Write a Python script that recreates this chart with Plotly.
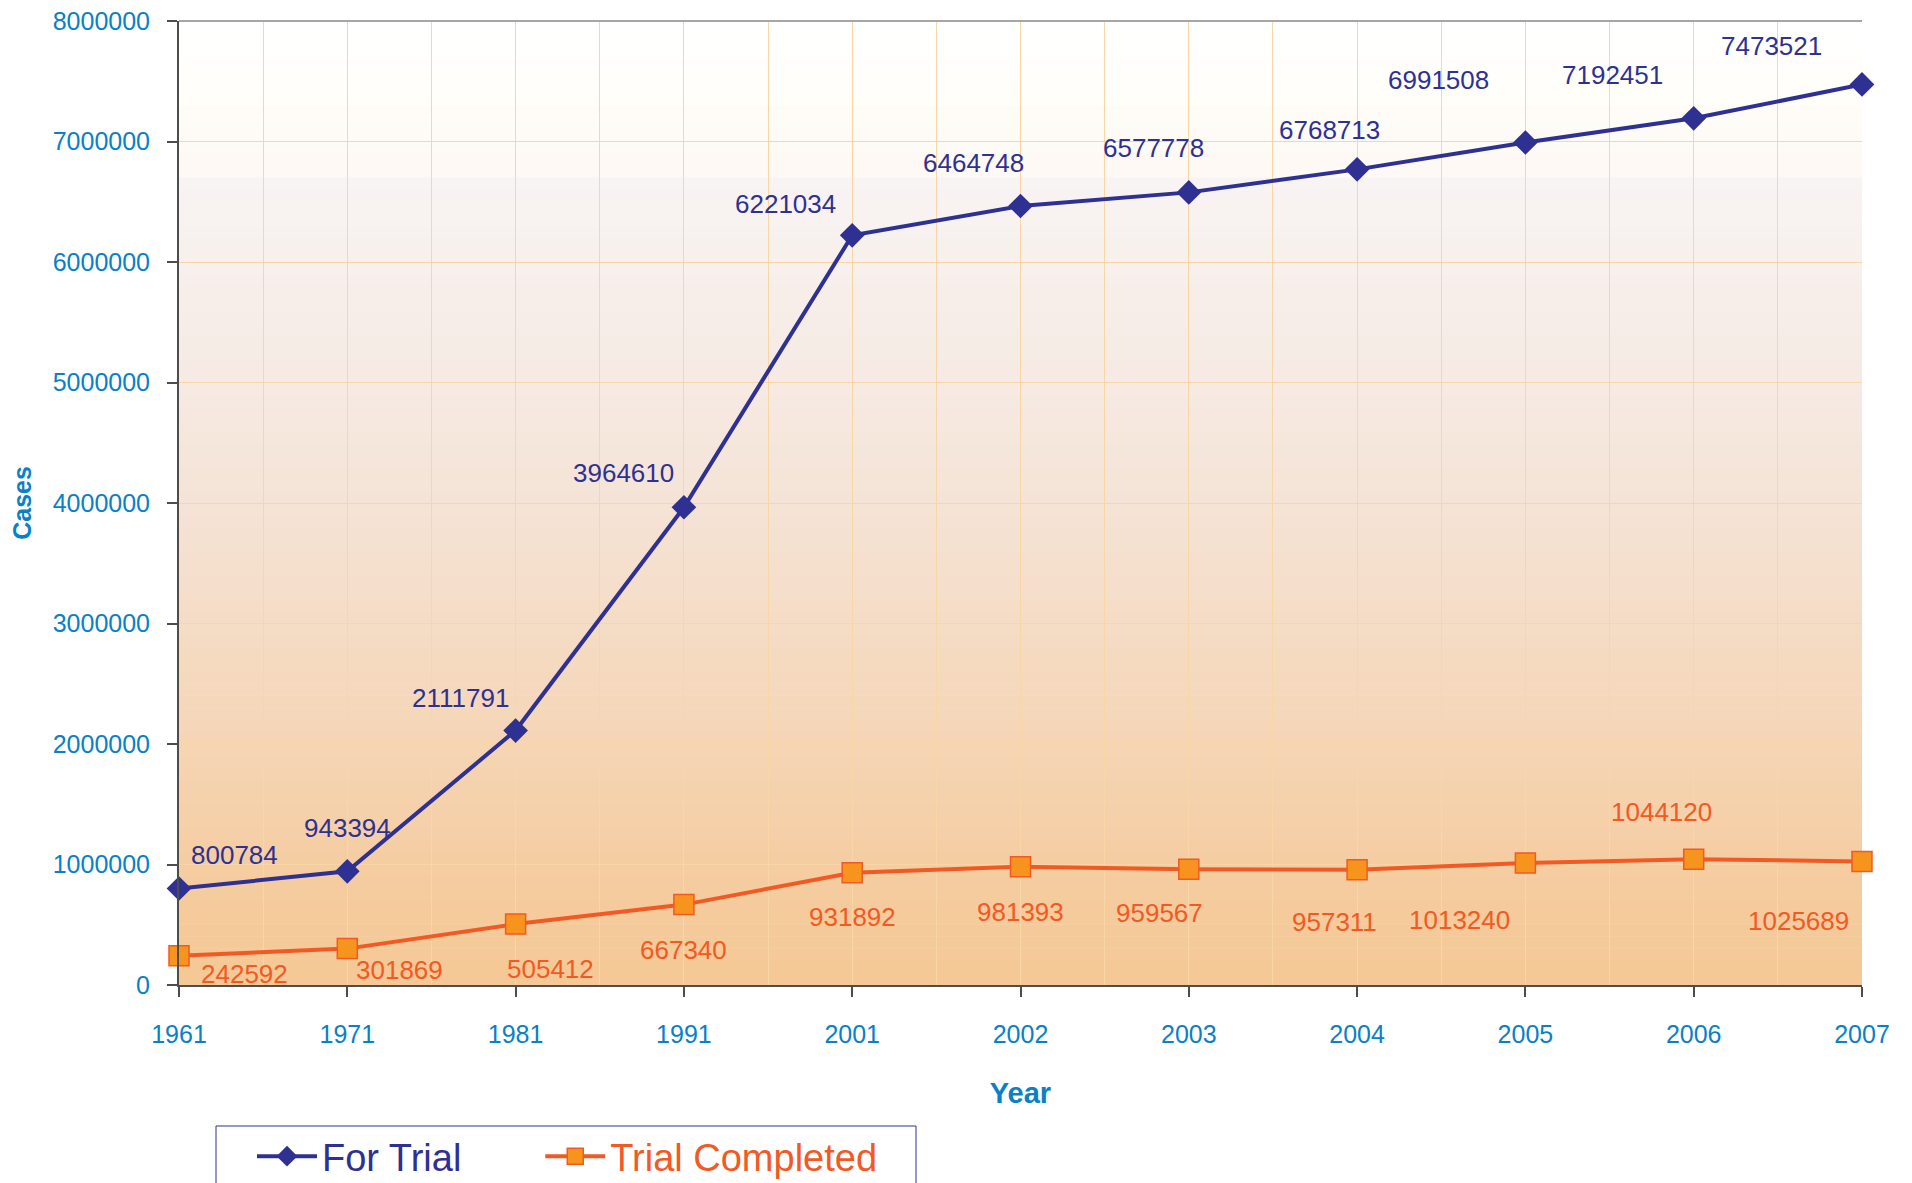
import plotly.graph_objects as go

# ---------------- data ----------------
years = ["1961", "1971", "1981", "1991", "2001", "2002", "2003", "2004", "2005", "2006", "2007"]
for_trial = [800784, 943394, 2111791, 3964610, 6221034, 6464748, 6577778, 6768713, 6991508, 7192451, 7473521]
trial_completed = [242592, 301869, 505412, 667340, 931892, 981393, 959567, 957311, 1013240, 1044120, 1025689]
y_ticks = [0, 1000000, 2000000, 3000000, 4000000, 5000000, 6000000, 7000000, 8000000]

# label offsets (pixels, dx right, dy down) – layout only
ft_off = [(55, -34), (0, -43), (-55, -33), (-60, -34), (-67, -31), (-47, -43),
          (-35, -44), (-28, -39), (-87, -63), (-81, -43), (-91, -38)]
tc_off = [(65, 18), (52, 21), (35, 45), (0, 45), (0, 44), (0, 45),
          (-29, 44), (-23, 52), (-66, 57), (-32, -47), (-64, 60)]

BLUE = "#2E3192"
ORANGE = "#F15A24"
ORANGE_FILL = "#F7941D"
TICK_BLUE = "#0A80C6"
FONT = "Liberation Sans, Arial, sans-serif"
NBSP = "\u00a0"

# page geometry (browser body has an 8px margin)
W, H = 1904, 1175
PL, PT, PW, PH = 171, 13, 1683, 964

def px(xpage):
    return (xpage - 8 - PL) / PW

def py(ypage):
    return (PT + PH - (ypage - 8)) / PH

xs = list(range(len(years)))

fig = go.Figure()
fig.add_trace(go.Scatter(
    x=xs, y=for_trial, name="For Trial" + NBSP * 7, mode="lines+markers",
    line=dict(color=BLUE, width=4),
    marker=dict(symbol="diamond", size=19, color=BLUE, line=dict(color=BLUE, width=0)),
    cliponaxis=False,
))
fig.add_trace(go.Scatter(
    x=xs, y=trial_completed, name="<span style='color:%s'>Trial Completed</span>" % ORANGE,
    mode="lines+markers",
    line=dict(color=ORANGE, width=4),
    marker=dict(symbol="square", size=20, color=ORANGE_FILL, line=dict(color=ORANGE, width=1.5)),
    cliponaxis=False,
))

# data labels
annotations = []
for i, v in enumerate(for_trial):
    dx, dy = ft_off[i]
    annotations.append(dict(x=xs[i], y=v, xref="x", yref="y", text=str(v), showarrow=False,
                            xshift=dx, yshift=-dy, font=dict(family=FONT, size=26, color=BLUE)))
for i, v in enumerate(trial_completed):
    dx, dy = tc_off[i]
    annotations.append(dict(x=xs[i], y=v, xref="x", yref="y", text=str(v), showarrow=False,
                            xshift=dx, yshift=-dy, font=dict(family=FONT, size=26, color=ORANGE)))

# gradient background (stacked bands)
stops = [
    (0.0, (245, 200, 148)),
    (1e6, (245, 205, 162)),
    (2e6, (245, 213, 181)),
    (3e6, (245, 220, 198)),
    (4e6, (245, 227, 214)),
    (5e6, (246, 234, 227)),
    (6e6, (247, 240, 237)),
    (6.7e6, (248, 244, 243)),
    (6.72e6, (254, 249, 244)),
    (7.0e6, (254, 250, 245)),
    (7.4e6, (255, 254, 250)),
    (8e6, (255, 255, 255)),
]

def col_at(v):
    for (a, ca), (b, cb) in zip(stops[:-1], stops[1:]):
        if a <= v <= b:
            t = (v - a) / (b - a) if b > a else 0
            return tuple(round(ca[k] + (cb[k] - ca[k]) * t) for k in range(3))
    return stops[-1][1]

shapes = []
n_bands = 80
band = 8e6 / n_bands
for k in range(n_bands):
    y0 = k * band
    y1 = y0 + band
    c = col_at((y0 + y1) / 2)
    shapes.append(dict(type="rect", xref="x domain", yref="y", x0=0, x1=1, y0=y0, y1=y1 + band * 0.05,
                       fillcolor="rgb(%d,%d,%d)" % c, line=dict(width=0), layer="below"))
# top border
shapes.append(dict(type="line", xref="x domain", yref="y domain", x0=0, x1=1, y0=1, y1=1,
                   line=dict(color="#A6A6A6", width=2), layer="above"))
# legend box
shapes.append(dict(type="rect", xref="paper", yref="paper",
                   x0=px(216), x1=px(916), y0=py(1200), y1=py(1126),
                   line=dict(color=BLUE, width=1), fillcolor="rgba(0,0,0,0)", layer="above"))

fig.update_layout(
    width=W, height=H,
    margin=dict(l=PL, r=W - PL - PW, t=PT, b=H - PT - PH, autoexpand=False),
    paper_bgcolor="white", plot_bgcolor="rgba(0,0,0,0)",
    shapes=shapes, annotations=annotations,
    showlegend=True,
    legend=dict(orientation="h", x=px(252), y=py(1125),
                xanchor="left", yanchor="top",
                font=dict(family=FONT, size=38, color=BLUE),
                bgcolor="rgba(0,0,0,0)", borderwidth=0, itemwidth=60),
    xaxis=dict(
        range=[0, 10], tickmode="array", tickvals=xs, ticktext=years,
        showline=True, linecolor="#4D4D4D", linewidth=2,
        ticks="outside", ticklen=10, tickcolor="#4D4D4D", tickwidth=1.5,
        tickfont=dict(family=FONT, size=25, color=TICK_BLUE),
        ticklabelstandoff=16, ticklabeloverflow="allow",
        showgrid=True, gridcolor="#F9D6A6", gridwidth=1.2,
        minor=dict(dtick=0.5, tick0=0, showgrid=True, gridcolor="#F9D6A6", gridwidth=1.2, ticks=""),
        zeroline=False,
        title=dict(text="Year", font=dict(family=FONT, size=29, color=TICK_BLUE, weight="bold"), standoff=36),
    ),
    yaxis=dict(
        range=[0, 8000000], tickmode="array", tickvals=y_ticks, tickformat="d",
        showline=True, linecolor="#4D4D4D", linewidth=2,
        ticks="outside", ticklen=10, tickcolor="#4D4D4D", tickwidth=1.5,
        tickfont=dict(family=FONT, size=25, color=TICK_BLUE),
        ticklabelstandoff=12, ticklabeloverflow="allow",
        showgrid=True, gridcolor="#F9D6A6", gridwidth=1.2,
        zeroline=False,
        title=dict(text="Cases", font=dict(family=FONT, size=25, color=TICK_BLUE, weight="bold"), standoff=24),
    ),
    yaxis2=dict(range=[0, 8000000], overlaying="y", anchor="x", side="right", showline=True,
                linecolor="#A6A6A6", linewidth=2, showgrid=False, zeroline=False,
                showticklabels=False, ticks="", layer="below traces", fixedrange=True),
)

fig.write_html("out.html")
